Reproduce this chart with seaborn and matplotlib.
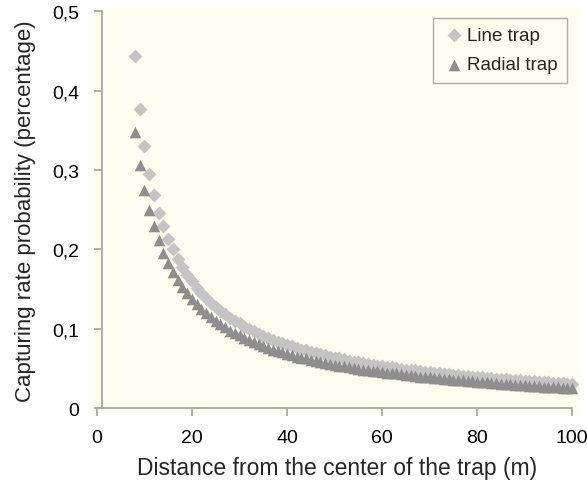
import numpy as np
import pandas as pd
import matplotlib
matplotlib.use("Agg")
import matplotlib.pyplot as plt
import seaborn as sns

# distances (m) and capture probabilities
distance = list(range(8, 101))

line_trap = [
    0.444, 0.377, 0.330, 0.295, 0.268, 0.246, 0.229, 0.213, 0.200, 0.188,
    0.178, 0.168, 0.160, 0.152, 0.145, 0.139, 0.133, 0.128, 0.123, 0.119,
    0.114, 0.110, 0.107, 0.103, 0.100, 0.097, 0.094, 0.091, 0.089, 0.086,
    0.084, 0.082, 0.080, 0.078, 0.076, 0.074, 0.073, 0.071, 0.070, 0.068,
    0.067, 0.065, 0.064, 0.063, 0.062, 0.060, 0.059, 0.058, 0.057, 0.056,
    0.055, 0.054, 0.053, 0.052, 0.052, 0.051, 0.050, 0.049, 0.048, 0.048,
    0.047, 0.046, 0.0457, 0.0450, 0.0444, 0.0438, 0.0431, 0.0425, 0.0418, 0.0413,
    0.0407, 0.0402, 0.0396, 0.0391, 0.0386, 0.0381, 0.0377, 0.0371, 0.0366, 0.0362,
    0.0357, 0.0353, 0.0348, 0.0344, 0.0340, 0.0336, 0.0332, 0.0327, 0.0323, 0.0319,
    0.0316, 0.0312, 0.0308,
]

radial_trap = [
    0.348, 0.306, 0.275, 0.250, 0.229, 0.212, 0.196, 0.183, 0.172, 0.162,
    0.153, 0.145, 0.138, 0.131, 0.125, 0.120, 0.115, 0.110, 0.106, 0.102,
    0.098, 0.095, 0.092, 0.089, 0.086, 0.083, 0.081, 0.079, 0.076, 0.074,
    0.072, 0.071, 0.069, 0.067, 0.065, 0.064, 0.063, 0.061, 0.060, 0.059,
    0.057, 0.056, 0.055, 0.054, 0.053, 0.052, 0.051, 0.050, 0.049, 0.048,
    0.047, 0.047, 0.046, 0.045, 0.044, 0.044, 0.043, 0.042, 0.042, 0.041,
    0.040, 0.040, 0.039, 0.0387, 0.0381, 0.0375, 0.0370, 0.0363, 0.0358, 0.0353,
    0.0348, 0.0343, 0.0338, 0.0333, 0.0328, 0.0324, 0.0319, 0.0314, 0.0310, 0.0306,
    0.0301, 0.0297, 0.0292, 0.0288, 0.0284, 0.0280, 0.0276, 0.0273, 0.0269, 0.0265,
    0.0261, 0.0258, 0.0255,
]

x_ticks = [0, 20, 40, 60, 80, 100]
y_ticks = [0, 0.1, 0.2, 0.3, 0.4, 0.5]
y_tick_labels = ["0", "0,1", "0,2", "0,3", "0,4", "0,5"]

sns.set_style("white")
plt.rcParams["font.family"] = ["Liberation Sans", "DejaVu Sans"]

df = pd.DataFrame({
    "distance": distance * 2,
    "prob": line_trap + radial_trap,
    "trap": ["Line trap"] * len(line_trap) + ["Radial trap"] * len(radial_trap),
})

fig = plt.figure(figsize=(5.87, 4.81), dpi=100)
# axes cover the cream plot area (a bit larger than the axis lines)
ax = fig.add_axes([94 / 587, 67 / 481, 486 / 587, 405 / 481])
ax.set_facecolor("#fdfdf0")

sns.scatterplot(data=df[df.trap == "Line trap"], x="distance", y="prob",
                marker="D", s=50, color="#c4c4c4", linewidth=0,
                label="Line trap", ax=ax, zorder=2)
sns.scatterplot(data=df[df.trap == "Radial trap"], x="distance", y="prob",
                marker="^", s=70, color="#8e8e8e", linewidth=0,
                label="Radial trap", ax=ax, zorder=3)

ax.set_xlim(-0.63, 101.68)
ax.set_ylim(-0.0057, 0.5038)

# axis lines like the original (gray, y axis sits just right of 0)
for side in ["top", "right"]:
    ax.spines[side].set_visible(False)
ax.spines["bottom"].set_position(("data", 0))
ax.spines["bottom"].set_bounds(0, 100)
ax.spines["left"].set_position(("data", 1))
ax.spines["left"].set_bounds(0, 0.5)
for side in ["bottom", "left"]:
    ax.spines[side].set_color("#a8a8a8")
    ax.spines[side].set_linewidth(1.3)

ax.set_xticks(x_ticks)
ax.set_yticks(y_ticks)
ax.set_yticklabels(y_tick_labels)
ax.tick_params(axis="both", which="major", bottom=True, left=True,
               direction="out", length=6, width=1.3,
               color="#a8a8a8", labelsize=14, labelcolor="black")
ax.tick_params(axis="x", pad=9)
ax.tick_params(axis="y", pad=10)

ax.set_xlabel("Distance from the center of the trap (m)", fontsize=16.5, labelpad=7)
ax.set_ylabel("Capturing rate probability (percentage)", fontsize=16, labelpad=12)

leg = ax.legend(loc="upper right", bbox_to_anchor=(0.985, 0.99), frameon=True,
                fancybox=False, fontsize=13.5, handletextpad=0.1,
                borderpad=0.5, labelspacing=0.65, handlelength=1.2,
                borderaxespad=0.3)
leg.get_frame().set_edgecolor("#999999")
leg.get_frame().set_facecolor("#fdfdf0")
leg.get_frame().set_linewidth(1.0)

fig.savefig("out.png", dpi=100)
